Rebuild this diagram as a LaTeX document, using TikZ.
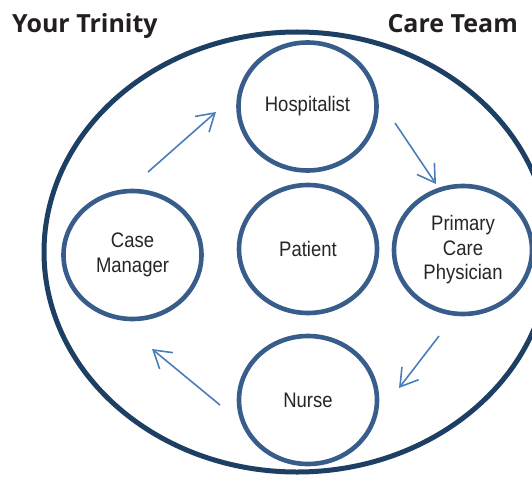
\documentclass[tikz,border=0pt]{standalone}
\usepackage{fontspec}
\setmainfont{Liberation Sans}
\newfontfamily\labelfont[FakeStretch=0.88]{Liberation Sans}
\newfontfamily\titlefont{Open Sans}
\usetikzlibrary{shapes.geometric,arrows.meta}
\definecolor{outerblue}{HTML}{1D3F63}
\definecolor{ringblue}{HTML}{385D8A}
\definecolor{arrowblue}{HTML}{4A7EBB}
\definecolor{labelgray}{HTML}{262626}
\definecolor{titleblack}{HTML}{231F20}
\tikzset{
  teamring/.style={ellipse, draw=outerblue, line width=5pt, minimum width=506pt, minimum height=440pt, inner sep=0pt},
  member/.style={ellipse, draw=ringblue, fill=white, line width=4.6pt, minimum width=138pt, minimum height=128pt, inner sep=0pt, align=center, text=labelgray, font=\labelfont\fontsize{21}{24.5}\selectfont},
  flow/.style={draw=arrowblue, line width=1.6pt, -{Straight Barb[length=17pt, width=21pt]}},
  heading/.style={text=titleblack, inner sep=0pt, font=\titlefont\bfseries\fontsize{25}{30}\selectfont}
}
\begin{document}
\begin{tikzpicture}[x=1pt,y=1pt]
\useasboundingbox (0,0) rectangle (532,-476);
\begin{scope}
\clip (0,0) rectangle (532,-476);
\node[teamring] (team) at (297,-252) {};
\end{scope}
\node[heading, anchor=base west] (t1) at (12,-33) {Your Trinity};
\node[heading, anchor=base east] (t2) at (518,-33) {Care Team};
\node[member] (hosp) at (307.5,-106.5) {Hospitalist};
\node[member] (patient) at (308,-249) {Patient};
\node[member] (pcp) at (463,-250) {Primary\\Care\\Physician};
\node[member] (case) at (132.5,-255) {Case\\Manager};
\node[member] (nurse) at (308,-400) {Nurse};
\coordinate (a1s) at (148,-172);
\coordinate (a1e) at (216,-112);
\coordinate (a2s) at (395,-123);
\coordinate (a2e) at (436,-184);
\coordinate (a3s) at (439,-336);
\coordinate (a3e) at (399,-388);
\coordinate (a4s) at (220,-405);
\coordinate (a4e) at (152,-349);
\draw[flow] (a1s) -- (a1e);
\draw[flow] (a2s) -- (a2e);
\draw[flow] (a3s) -- (a3e);
\draw[flow] (a4s) -- (a4e);
\end{tikzpicture}
\end{document}
